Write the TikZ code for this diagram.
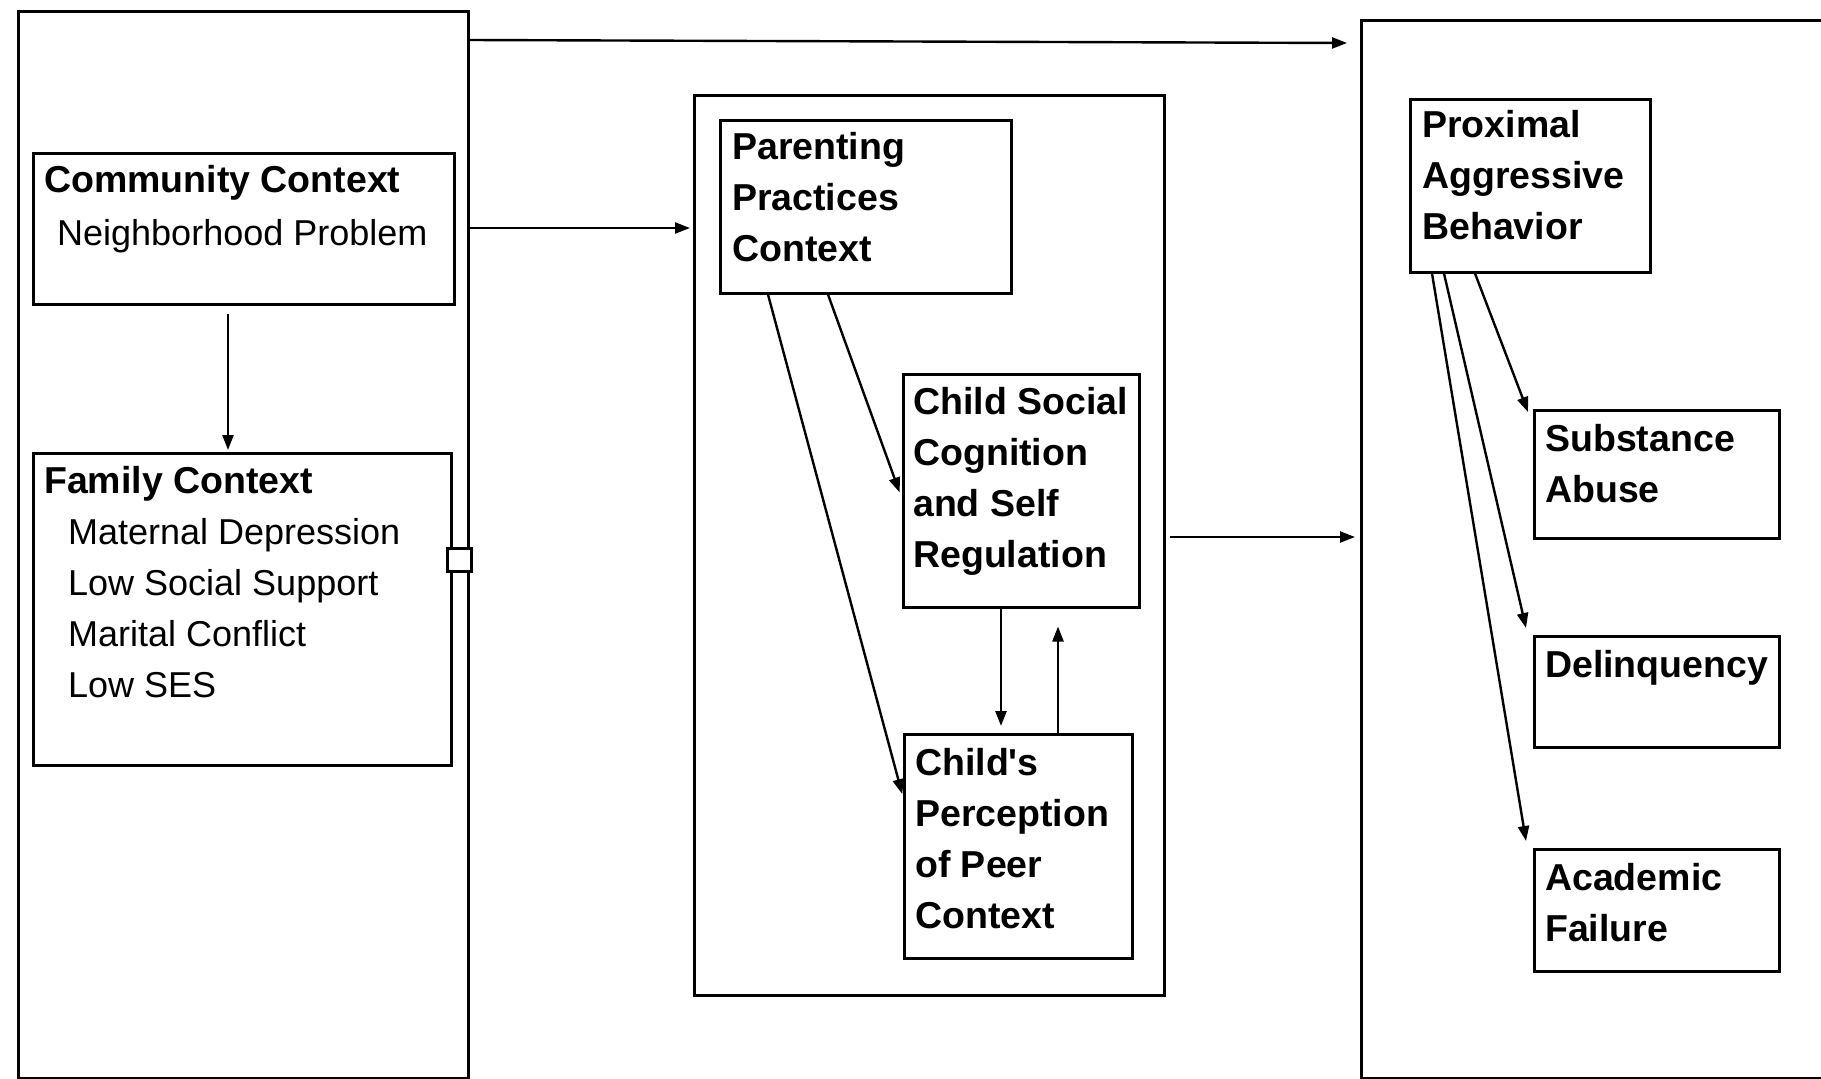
\documentclass[tikz,border=0pt]{standalone}
\usepackage{fontspec}
\setmainfont{Liberation Sans}
\usetikzlibrary{arrows.meta,calc}
\begin{document}
\begin{tikzpicture}[x=1pt,y=-1pt,
  box/.style={draw, line width=2.5pt, inner sep=0pt, anchor=north west},
  hd/.style={font=\fontsize{37.5}{51}\selectfont\bfseries, anchor=base west, inner sep=0pt, align=left},
  tx/.style={font=\fontsize{36}{51}\selectfont, anchor=base west, inner sep=0pt, align=left},
  arr/.style={line width=2.4pt, -{Triangle[length=15pt,width=11pt]}}]
\useasboundingbox (0,0) rectangle (1821,1079);
\clip (0,0) rectangle (1821,1079);
% big boxes
\node[box, minimum width=450pt, minimum height=1067pt] (L) at (17,10) {};
\node[box, minimum width=475pt, minimum height=1058pt] (R) at (1360,19) {};
\node[box, minimum width=470pt, minimum height=900pt] (M) at (693,94) {};
% left column
\node[box, minimum width=421pt, minimum height=151pt] (CC) at (32,152) {};
\node[hd] (CCt) at (44,192) {Community Context};
\node[tx] (CCs) at (57,245) {Neighborhood Problem};
\node[box, minimum width=418pt, minimum height=312pt] (FC) at (32,452) {};
\node[hd] (FCt) at (44,493) {Family Context};
\node[tx] (FCs) at (68,697) {Maternal Depression\\Low Social Support\\Marital Conflict\\Low SES};
\node[box, fill=white, minimum width=24pt, minimum height=23pt] (SQ) at (446,547) {};
% middle column
\node[box, minimum width=291pt, minimum height=173pt] (PP) at (719,119) {};
\node[hd] (PPt) at (732,261) {Parenting\\Practices\\Context};
\node[box, minimum width=236pt, minimum height=233pt] (CS) at (902,373) {};
\node[hd] (CSt) at (913,567) {Child Social\\Cognition\\and Self\\Regulation};
\node[box, minimum width=228pt, minimum height=224pt] (CP) at (903,733) {};
\node[hd] (CPt) at (915,928) {Child\textquotesingle s\\Perception\\of Peer\\Context};
% right column
\node[box, minimum width=240pt, minimum height=173pt] (PA) at (1409,98) {};
\node[hd] (PAt) at (1422,239) {Proximal\\Aggressive\\Behavior};
\node[box, minimum width=245pt, minimum height=128pt] (SA) at (1533,409) {};
\node[hd] (SAt) at (1545,502) {Substance\\Abuse};
\node[box, minimum width=245pt, minimum height=111pt] (DL) at (1533,635) {};
\node[hd] (DLt) at (1545,677) {Delinquency};
\node[box, minimum width=245pt, minimum height=122pt] (AF) at (1533,848) {};
\node[hd] (AFt) at (1545,941) {Academic\\Failure};
% connectors
\coordinate (topend) at (1347,43);
\draw[arr] (L.north east |- 0,40) -- (topend);
\draw[arr, shorten >=3pt] (L.east |- 0,228) -- (M.west |- 0,228);
\draw[arr, shorten <=8pt, shorten >=2pt] (CC.south -| 228,0) -- (FC.north -| 228,0);
\draw[arr, shorten <=4pt, shorten >=5pt] (M.east |- 0,537) -- (R.west |- 0,537);
\draw[arr, shorten >=7pt] (PP.south -| 828,0) -- (CS.west |- 0,499);
\draw[arr, shorten >=3pt] (PP.south -| 768,0) -- (CP.west |- 0,797);
\draw[arr, shorten >=7pt] (CS.south -| 1001,0) -- (CP.north -| 1001,0);
\draw[arr, shorten >=18pt] (CP.north -| 1058,0) -- (CS.south -| 1058,0);
\draw[arr] (PA.south -| 1475,0) -- ($(SA.north west)+(-5,3)$);
\draw[arr] (PA.south -| 1444,0) -- ($(DL.north west)+(-7,-7)$);
\draw[arr] (PA.south -| 1432,0) -- ($(AF.north west)+(-7,-7)$);
\end{tikzpicture}
\end{document}
